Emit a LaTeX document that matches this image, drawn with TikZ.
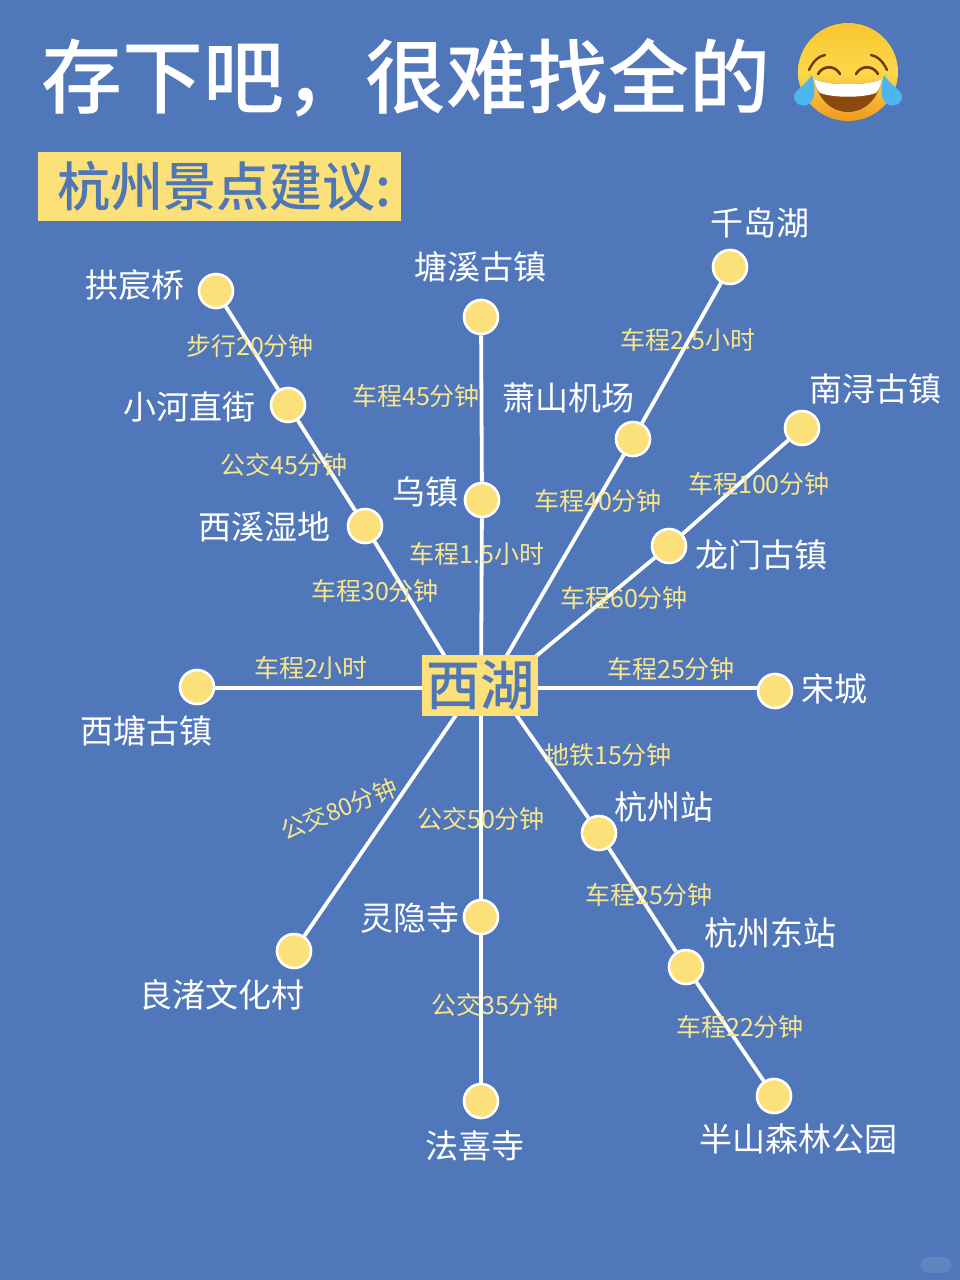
\documentclass[tikz,border=0pt]{standalone}
\usepackage{fontspec}
\setmainfont{Noto Sans CJK SC}
\newfontfamily\midcjk{Noto Sans CJK SC Medium}
\usetikzlibrary{backgrounds}
\definecolor{bgblue}{HTML}{5177BB}
\definecolor{hubyellow}{HTML}{FCE07A}
\definecolor{labyellow}{HTML}{F7E68C}
\definecolor{boxtext}{HTML}{4F76B5}
\definecolor{faceT}{HTML}{F9C62F}
\definecolor{faceM}{HTML}{FDD84A}
\definecolor{faceB}{HTML}{EE9A1F}
\definecolor{mouthc}{HTML}{8A4A0E}
\definecolor{browc}{HTML}{6B3A0C}
\definecolor{tearc}{HTML}{4DB5F0}
\tikzset{
  x=1pt,y=-1pt,
  stop/.style={circle,fill=hubyellow,draw=white,line width=2.6pt,minimum size=34pt,inner sep=0pt},
  place/.style={text=white,font=\fontsize{33}{36}\selectfont,inner sep=0pt},
  leg/.style={text=labyellow,font=\fontsize{25}{28}\selectfont,inner sep=0pt},
  link/.style={draw=white,line width=3.8pt},
  hubbox/.style={fill=hubyellow,text=boxtext,font=\midcjk\fontsize{54}{58}\selectfont,minimum width=116pt,minimum height=61pt,inner sep=0pt},
}
\begin{document}
\begin{tikzpicture}
\useasboundingbox (0,0) rectangle (960,1280);
% title
\node[text=white,font=\midcjk\fontsize{81}{90}\selectfont,inner sep=0pt,anchor=west] (title) at (41,78) {存下吧，很难找全的};
\node[fill=hubyellow,text=boxtext,font=\midcjk\fontsize{53}{58}\selectfont,minimum width=363pt,minimum height=69pt,inner sep=0pt,text width=323pt] (sub) at (219,186) {杭州景点建议:};
% hub and stops
\node[hubbox] (hub) at (480,685.5) {西湖};
\coordinate (hNW) at (463,686);
\coordinate (hN) at (481,686);
\coordinate (hNE) at (489,686);
\coordinate (hENE) at (500,686);
\coordinate (hSW) at (476,686);
\coordinate (hSE) at (496,686);
\coordinate (hW) at (480,688);
\coordinate (hE) at (480,688);
\node[stop] (gongchen) at (216,291) {};
\node[stop] (xiaohe) at (288,405) {};
\node[stop] (xixi) at (365,526) {};
\node[stop] (tangxi) at (481,317) {};
\node[stop] (wuzhen) at (482,500) {};
\node[stop] (qiandao) at (730,267) {};
\node[stop] (xiaoshan) at (633,439) {};
\node[stop] (nanxun) at (802,428) {};
\node[stop] (longmen) at (669,546) {};
\node[stop] (songcheng) at (775,691) {};
\node[stop] (xitang) at (197,687) {};
\node[stop] (hzzhan) at (599,833) {};
\node[stop] (hzdong) at (686,967) {};
\node[stop] (banshan) at (774,1096) {};
\node[stop] (lingyin) at (481,917) {};
\node[stop] (faxi) at (481,1101) {};
\node[stop] (liangzhu) at (294,951) {};
\coordinate (songIn) at (775,688);
\coordinate (xitangIn) at (197,688);
% connectors
\begin{scope}[on background layer]
\fill[bgblue] (0,0) rectangle (960,1280);
\draw[link] (gongchen) -- (xiaohe);
\draw[link] (xiaohe) -- (xixi);
\draw[link] (xixi) -- (hNW);
\draw[link] (tangxi) -- (wuzhen);
\draw[link] (wuzhen) -- (hN);
\draw[link] (qiandao) -- (xiaoshan);
\draw[link] (xiaoshan) -- (hNE);
\draw[link] (nanxun) -- (longmen);
\draw[link] (longmen) -- (hENE);
\draw[link] (hE) -- (songIn);
\draw[link] (hW) -- (xitangIn);
\draw[link] (hSE) -- (hzzhan);
\draw[link] (hzzhan) -- (hzdong);
\draw[link] (hzdong) -- (banshan);
\draw[link] (hN) -- (lingyin);
\draw[link] (lingyin) -- (faxi);
\draw[link] (hSW) -- (liangzhu);
\end{scope}
% place names
\node[place] (t1) at (135,285) {拱宸桥};
\node[place] (t2) at (189,407) {小河直街};
\node[place] (t3) at (264,527) {西溪湿地};
\node[place] (t4) at (480,267) {塘溪古镇};
\node[place] (t5) at (425,492) {乌镇};
\node[place] (t6) at (760,223) {千岛湖};
\node[place] (t7) at (568,398) {萧山机场};
\node[place] (t8) at (875,389) {南浔古镇};
\node[place] (t9) at (761,555) {龙门古镇};
\node[place] (t10) at (834,689) {宋城};
\node[place] (t11) at (146,731) {西塘古镇};
\node[place] (t12) at (664,807) {杭州站};
\node[place] (t13) at (770,933) {杭州东站};
\node[place] (t14) at (798,1139) {半山森林公园};
\node[place] (t15) at (410,918) {灵隐寺};
\node[place] (t16) at (475,1146) {法喜寺};
\node[place] (t17) at (222,995) {良渚文化村};
% leg labels
\node[leg] (l1) at (250,346) {步行20分钟};
\node[leg] (l2) at (284,465) {公交45分钟};
\node[leg] (l3) at (375,591) {车程30分钟};
\node[leg] (l4) at (416,396) {车程45分钟};
\node[leg] (l5) at (477,554) {车程1.5小时};
\node[leg] (l6) at (688,340) {车程2.5小时};
\node[leg] (l7) at (598,501) {车程40分钟};
\node[leg] (l8) at (759,484) {车程100分钟};
\node[leg] (l9) at (624,598) {车程60分钟};
\node[leg] (l10) at (671,669) {车程25分钟};
\node[leg] (l11) at (311,668) {车程2小时};
\node[leg] (l12) at (608,755) {地铁15分钟};
\node[leg] (l13) at (649,895) {车程25分钟};
\node[leg] (l14) at (740,1027) {车程22分钟};
\node[leg] (l15) at (481,819) {公交50分钟};
\node[leg] (l16) at (495,1005) {公交35分钟};
\node[leg,font=\fontsize{24}{28}\selectfont,rotate=22] (l17) at (339,809) {公交80分钟};
% emoji
\begin{scope}[shift={(848,72)}]
\shade[top color=faceT,bottom color=faceB,middle color=faceM] (0,0) ellipse [x radius=50,y radius=49];
\fill[mouthc] (-34,7) .. controls (-20,14) and (20,14) .. (34,7) .. controls (30,28) and (16,40) .. (0,40) .. controls (-16,40) and (-30,28) .. (-34,7) -- cycle;
\fill[white] (-34,7) .. controls (-20,14) and (20,14) .. (34,7) .. controls (33,13) and (31,18) .. (28,21) .. controls (14,26) and (-14,26) .. (-28,21) .. controls (-31,18) and (-33,13) .. (-34,7) -- cycle;
\draw[browc,line width=2.6pt,line cap=round] (-30,2) .. controls (-25,-7) and (-13,-7) .. (-8,2);
\draw[browc,line width=2.6pt,line cap=round] (8,2) .. controls (13,-7) and (25,-7) .. (30,2);
\draw[browc,line width=2.4pt,line cap=round] (-39,-2) .. controls (-35,-11) and (-29,-16) .. (-23,-17);
\draw[browc,line width=2.4pt,line cap=round] (39,-2) .. controls (35,-11) and (29,-16) .. (23,-17);
\fill[tearc] (-36,3) .. controls (-43,14) and (-54,18) .. (-54,25) .. controls (-54,32) and (-46,35) .. (-41,33) .. controls (-34,30) and (-31,20) .. (-36,3) -- cycle;
\fill[tearc] (36,3) .. controls (43,14) and (54,18) .. (54,25) .. controls (54,32) and (46,35) .. (41,33) .. controls (34,30) and (31,20) .. (36,3) -- cycle;
\end{scope}
% watermark pill
\fill[white,opacity=0.1,rounded corners=8pt] (921,1257) rectangle (951,1273);
\end{tikzpicture}
\end{document}
